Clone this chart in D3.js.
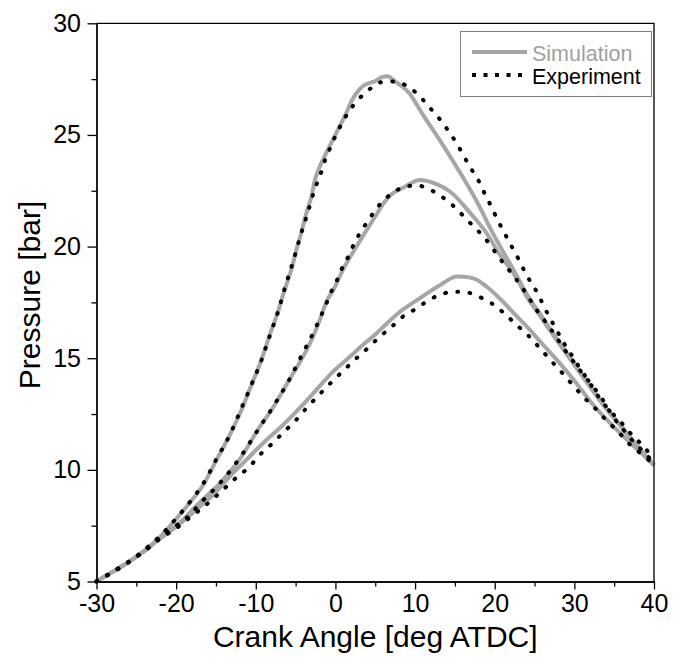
<!DOCTYPE html>
<html>
<head>
<meta charset="utf-8">
<script src="https://cdn.jsdelivr.net/npm/d3@7"></script>
<style>
  body { margin: 0; background: #fff; }
  text { font-family: "Liberation Sans", Arial, sans-serif; }
</style>
</head>
<body>
<script>
// crank angle [deg ATDC], pressure [bar]
var simA = [[-30,5.02],[-28,5.42],[-26,5.86],[-24,6.38],[-22,7.0],[-20,7.8],[-18,8.65],[-16.6,9.32],[-14.94,10.44],
  [-13.27,11.56],[-11.8,12.68],[-10.55,13.8],[-9.3,14.92],[-8.25,16.04],[-7.2,17.1],[-6.37,18.07],[-5.53,18.97],
  [-4.9,19.86],[-4.3,20.6],[-3.65,21.5],[-3.0,22.26],[-2.6,22.95],[-2.0,23.55],[-0.93,24.35],[-0.1,24.95],[0.74,25.54],
  [1.37,25.99],[2.0,26.5],[2.7,26.9],[3.46,27.19],[4.3,27.33],[5.0,27.41],[5.84,27.59],[6.5,27.63],[7.5,27.4],
  [9.2,26.9],[11,25.9],[13.4,24.6],[15.5,23.4],[17.55,22.15],[20.06,20.4],[22.3,19.0],[24.45,17.63],[25.5,17.09],
  [27.6,15.97],[29.7,14.92],[31.7,13.88],[33.85,12.83],[35.95,11.94],[38,11.04],[40,10.2]];

var expA = [[-30,5.0],[-28,5.4],[-26,5.85],[-24,6.42],[-22,7.05],[-20,7.82],[-17.87,8.75],[-16.7,9.32],[-15,10.44],
  [-13.27,11.56],[-11.9,12.68],[-10.6,13.76],[-9.3,14.9],[-8.25,16.0],[-7.2,17.09],[-6.28,18.23],[-5.3,19.35],
  [-4.4,20.47],[-3.45,21.55],[-2.5,22.67],[-1.9,23.2],[-1.35,23.83],[-0.8,24.3],[-0.1,24.87],[0.74,25.47],
  [1.58,25.99],[2.75,26.54],[4.3,27.05],[5.2,27.3],[6.5,27.4],[7.6,27.38],[9.0,27.19],[10.4,26.8],[11.9,26.2],
  [13.2,25.66],[14.2,25.17],[15.26,24.6],[16.2,24.0],[17.1,23.45],[18.0,22.93],[18.8,22.33],[19.56,21.8],
  [20.3,21.24],[21.1,20.69],[22.0,20.09],[22.8,19.57],[23.6,19.0],[24.45,18.45],[25.4,17.9],[26.2,17.3],
  [26.95,16.79],[27.8,16.24],[28.7,15.67],[29.7,15.12],[30.7,14.55],[31.7,14.03],[32.8,13.4],[33.85,12.9],
  [35.95,12.09],[37.35,11.52],[38.9,10.97],[40,10.45]];

var simB = [[-30,5.0],[-28,5.43],[-26,5.87],[-24,6.36],[-22,6.95],[-20,7.5],[-19.1,7.78],[-17.45,8.4],[-15.8,8.95],
  [-14.5,9.4],[-13.27,9.9],[-12.0,10.48],[-10.76,11.19],[-9.5,11.93],[-8.03,12.68],[-6.78,13.43],[-5.3,14.33],
  [-4.06,15.07],[-2.8,15.97],[-1.98,16.7],[-1.1,17.55],[-0.2,18.1],[1.0,19.0],[2.3,19.8],[3.5,20.5],[5.0,21.35],
  [6.05,21.94],[6.9,22.3],[8.56,22.65],[10.65,22.98],[12.3,22.85],[14.6,22.4],[17.1,21.43],[18.8,20.69],
  [20.5,19.72],[22.6,18.67],[24.24,17.63],[25.5,17.0],[27.6,15.9],[29.7,14.85],[31.7,13.85],[33.85,12.8],
  [35.95,11.9],[38,11.0],[40,10.2]];

var expB = [[-30,5.0],[-28,5.43],[-26,5.88],[-24,6.38],[-22,6.98],[-20,7.5],[-18.36,7.95],[-16.9,8.53],[-15.4,9.07],
  [-13.98,9.62],[-11.7,10.7],[-9.6,11.86],[-7.7,12.9],[-5.8,14.03],[-4.2,15.15],[-2.6,16.27],[-1.2,17.4],
  [-0.55,17.96],[0.2,18.5],[0.9,19.08],[1.66,19.58],[2.4,20.18],[3.34,20.75],[4.25,21.24],[5.42,21.82],[6.9,22.33],
  [8.56,22.66],[10.2,22.74],[11.6,22.6],[13.15,22.28],[14.75,21.84],[16.1,21.36],[17.4,20.88],[18.68,20.42],
  [19.77,19.9],[21.0,19.3],[22.16,18.79],[23.28,18.25],[24.3,17.7],[25.4,17.09],[26.5,16.57],[27.7,15.97],
  [28.7,15.42],[29.9,14.85],[31.0,14.33],[32.3,13.76],[33.5,13.18],[35.0,12.31],[36.1,11.82],[37.6,11.19],
  [38.9,10.74],[40,10.3]];

var simC = [[-30,5.0],[-28,5.43],[-26,5.87],[-24,6.36],[-22,6.93],[-20,7.45],[-17.45,8.22],[-15.36,8.88],[-13.27,9.7],
  [-11.2,10.44],[-9.1,11.19],[-6.58,12.01],[-4.5,12.76],[-2.4,13.58],[-0.3,14.4],[1.78,15.05],[3.46,15.6],
  [5.0,16.06],[6.26,16.49],[8.14,17.09],[10.24,17.6],[13.16,18.28],[15.26,18.66],[16.1,18.65],[17.34,18.58],
  [19.0,18.2],[20.7,17.65],[22.6,16.94],[24.24,16.34],[25.9,15.67],[28.0,14.85],[30.1,13.95],[32.2,12.98],
  [34.3,12.16],[36.4,11.42],[38.46,10.74],[40,10.2]];

var expC = [[-30,5.0],[-28,5.42],[-26,5.86],[-24,6.35],[-22,6.92],[-20,7.38],[-18.4,7.83],[-16.95,8.23],[-15.36,8.7],
  [-13.9,9.18],[-12.3,9.7],[-10.9,10.1],[-9.5,10.67],[-8.03,11.15],[-6.44,11.71],[-5.06,12.19],[-3.55,12.8],
  [-2.05,13.36],[-0.63,13.88],[0.87,14.4],[2.4,14.92],[3.96,15.42],[5.5,15.94],[7.0,16.39],[8.6,16.9],[10.15,17.22],
  [11.7,17.6],[13.16,17.84],[14.83,17.98],[16.3,17.96],[18.0,17.76],[19.4,17.51],[21.1,17.04],[22.65,16.52],
  [24.15,16.04],[25.57,15.49],[27.1,14.88],[28.4,14.37],[29.8,13.8],[31.1,13.28],[32.6,12.76],[33.95,12.24],
  [35.5,11.71],[36.9,11.16],[38.45,10.7],[40,10.25]];

var xMajor = [-30, -20, -10, 0, 10, 20, 30, 40];
var xMinor = [-25, -15, -5, 5, 15, 25, 35];
var yMajor = [5, 10, 15, 20, 25, 30];
var yMinor = [7.5, 12.5, 17.5, 22.5, 27.5];
var legendNames = ["Simulation", "Experiment"];

var width = 673, height = 657;
var mLeft = 96.5, mTop = 23.3, plotW = 557.5, plotH = 558.2;

var svg = d3.select("body").append("svg")
  .attr("width", width)
  .attr("height", height);

var x = d3.scaleLinear().domain([-30, 40]).range([mLeft, mLeft + plotW]);
var y = d3.scaleLinear().domain([5, 30]).range([mTop + plotH, mTop]);

var simColor = "#a6a6a6";

var line = d3.line()
  .x(function (d) { return x(d[0]); })
  .y(function (d) { return y(d[1]); })
  .curve(d3.curveMonotoneX);

var plot = svg.append("g");

[simC, simB, simA].forEach(function (s) {
  plot.append("path")
    .attr("d", line(s))
    .attr("fill", "none")
    .attr("stroke", simColor)
    .attr("stroke-width", 4);
});

[expC, expB, expA].forEach(function (s) {
  plot.append("path")
    .attr("d", line(s))
    .attr("fill", "none")
    .attr("stroke", "#000")
    .attr("stroke-width", 4)
    .attr("stroke-linecap", "round")
    .attr("stroke-dasharray", "0.8,11.5");
});

// frame (top and right)
svg.append("path")
  .attr("d", "M" + mLeft + "," + mTop + "H" + (mLeft + plotW) + "V" + (mTop + plotH))
  .attr("fill", "none")
  .attr("stroke", "#000")
  .attr("stroke-width", 1.3);

function styleAxis(g) {
  g.select(".domain").attr("stroke-width", 1.3);
  g.selectAll(".tick line").attr("stroke-width", 1.3);
  g.selectAll("text").style("font-size", "25px").attr("fill", "#000")
    .style("font-family", "'Liberation Sans', Arial, sans-serif");
}

var fmt = function (d) { return String(d); };

svg.append("g")
  .attr("transform", "translate(0," + (mTop + plotH) + ")")
  .call(d3.axisBottom(x).tickValues(xMajor).tickFormat(fmt).tickSize(8).tickPadding(5).tickSizeOuter(0))
  .call(styleAxis);

svg.append("g")
  .attr("transform", "translate(0," + (mTop + plotH) + ")")
  .call(d3.axisBottom(x).tickValues(xMinor).tickSize(5).tickFormat("").tickSizeOuter(0))
  .call(styleAxis);

svg.append("g")
  .attr("transform", "translate(" + mLeft + ",0)")
  .call(d3.axisLeft(y).tickValues(yMajor).tickFormat(fmt).tickSize(9).tickPadding(6.5).tickSizeOuter(0))
  .call(styleAxis);

svg.append("g")
  .attr("transform", "translate(" + mLeft + ",0)")
  .call(d3.axisLeft(y).tickValues(yMinor).tickSize(5).tickFormat("").tickSizeOuter(0))
  .call(styleAxis);

// axis titles
svg.append("text")
  .attr("x", mLeft + plotW / 2)
  .attr("y", 647)
  .attr("text-anchor", "middle")
  .style("font-size", "30px")
  .text("Crank Angle [deg ATDC]");

svg.append("text")
  .attr("transform", "translate(40,295) rotate(-90)")
  .attr("text-anchor", "middle")
  .style("font-size", "30px")
  .text("Pressure [bar]");

// legend
var lg = svg.append("g");
lg.append("rect")
  .attr("x", 460.5).attr("y", 31.5)
  .attr("width", 191).attr("height", 65)
  .attr("fill", "#fff")
  .attr("stroke", "#808080")
  .attr("stroke-width", 1);

lg.append("line")
  .attr("x1", 472).attr("x2", 527).attr("y1", 52).attr("y2", 52)
  .attr("stroke", simColor).attr("stroke-width", 4);
lg.append("line")
  .attr("x1", 472).attr("x2", 527).attr("y1", 75).attr("y2", 75)
  .attr("stroke", "#000").attr("stroke-width", 4)
  .attr("stroke-dasharray", "4,7.5");

lg.append("text").attr("x", 532).attr("y", 61)
  .style("font-size", "21.5px").attr("fill", "#a0a0a0").text(legendNames[0]);
lg.append("text").attr("x", 532).attr("y", 84)
  .style("font-size", "21.5px").attr("fill", "#000").text(legendNames[1]);
</script>
</body>
</html>
